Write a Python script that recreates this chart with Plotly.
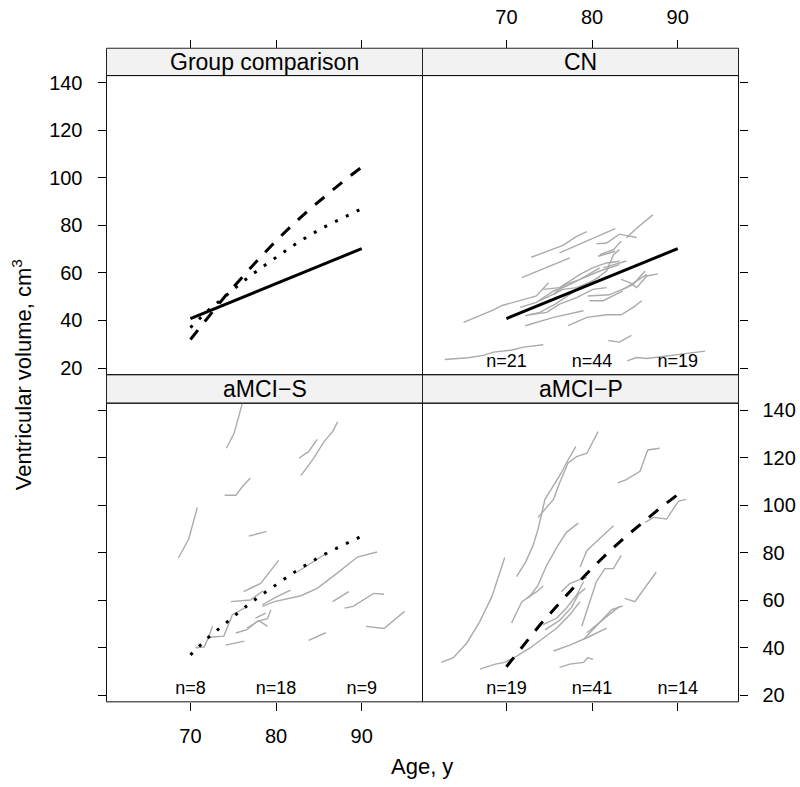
import plotly.graph_objects as go

W, H = 800, 787
FONT = "Liberation Sans"

# ---------------- data ----------------
AGE_TICKS = [70, 80, 90]
VOL_TICKS = [20, 40, 60, 80, 100, 120, 140]
X_RANGE = [60.2, 97.1]
Y_RANGE = [17.2, 143.0]

PANEL_TITLES = ["Group comparison", "CN", "aMCI\u2212S", "aMCI\u2212P"]

# group fitted trajectories
FIT_AGE = [70, 72, 74, 76, 78, 80, 82, 84, 86, 88, 90]
FIT_CN = [40.8, 43.7, 46.6, 49.6, 52.5, 55.5, 58.4, 61.4, 64.3, 67.3, 70.2]
FIT_S = [37.0, 44.0, 50.0, 56.0, 61.5, 66.5, 71.5, 76.0, 80.0, 83.5, 87.0]
FIT_P = [32.0, 41.0, 50.0, 58.0, 66.0, 73.5, 80.5, 87.0, 93.0, 99.0, 104.5]

# individual trajectories, CN
CN_AGE = [
    [62.8, 65.5, 67.3, 68.5, 70.5, 72.0, 74.3],
    [84.1, 85.2, 86.4, 89.5, 93.2],
    [81.9, 83.2, 84.6],
    [65.0, 66.9, 68.5, 69.5, 71.6, 73.5, 74.9],
    [72.9, 76.6, 78.2, 79.4],
    [76.2, 79.4, 82.7],
    [71.8, 77.4],
    [80.5, 81.7, 83.2, 85.2],
    [84.0, 85.2, 87.1],
    [80.9, 82.5, 83.4],
    [71.6, 73.5, 75.5, 77.0, 78.6, 80.9, 83.2],
    [72.7, 74.7, 76.2, 78.2, 80.1, 81.7],
    [72.2, 75.5, 79.0],
    [77.2, 79.4, 81.7, 83.4, 84.8, 85.8],
    [79.5, 82.0, 84.0, 86.4],
    [83.4, 84.4, 85.2, 86.0, 86.4, 87.7],
    [83.6, 84.8, 86.2],
    [74.3, 76.2, 78.6, 80.1, 81.7, 83.2],
    [75.5, 76.6, 78.2, 80.1, 81.7, 82.5, 83.2],
    [80.7, 82.7],
    [81.3, 82.7, 84.0],
    [72.2, 73.9, 75.7, 77.2, 78.6, 80.9],
    [73.9, 75.5, 77.0, 78.6, 80.9],
    [79.7, 81.3, 83.6],
]
CN_VOL = [
    [23.6, 24.3, 25.3, 26.7, 27.5, 28.8, 29.8],
    [23.0, 24.4, 24.0, 25.3, 27.1],
    [31.6, 30.9, 33.7],
    [39.2, 42.0, 44.5, 46.3, 48.3, 50.3, 55.9],
    [66.6, 71.6, 75.4, 77.4],
    [68.4, 73.3, 78.6],
    [58.0, 66.3],
    [72.2, 72.6, 76.3, 74.9],
    [74.7, 78.8, 84.4],
    [67.7, 69.8, 73.3],
    [45.5, 47.6, 52.4, 54.5, 57.3, 60.8, 63.5],
    [42.4, 43.4, 46.9, 49.6, 53.1, 53.8],
    [37.8, 41.3, 44.1],
    [37.8, 41.3, 42.4, 42.4, 45.5, 48.3],
    [50.3, 50.8, 53.8, 59.4],
    [57.3, 55.9, 53.8, 57.3, 58.7, 59.6],
    [53.1, 55.2, 60.8],
    [53.1, 53.8, 59.4, 62.2, 64.2, 64.9],
    [51.0, 53.1, 53.8, 56.6, 60.8, 67.7, 69.8],
    [67.0, 69.1],
    [62.1, 63.6, 65.0],
    [42.0, 43.4, 46.9, 50.3, 53.8, 58.3],
    [48.3, 51.1, 55.2, 57.3, 62.1],
    [48.3, 48.3, 52.4],
]

# individual trajectories, aMCI-S
S_AGE = [
    [74.2, 75.1, 76.1],
    [82.7, 83.8, 84.8],
    [82.9, 84.4, 85.6, 86.6, 87.2],
    [74.0, 75.3, 76.1, 77.0],
    [68.6, 69.8, 70.8],
    [76.8, 78.9],
    [70.6, 71.6, 72.0, 72.6],
    [72.2, 73.9, 74.9, 76.3],
    [76.2, 78.2, 80.3],
    [74.7, 77.0, 78.5],
    [78.4, 80.1, 81.7],
    [78.4, 79.8, 82.9, 84.8, 87.1, 89.5, 91.8],
    [86.6, 88.5],
    [88.0, 89.0, 91.4, 92.6],
    [90.5, 92.6, 95.0],
    [83.8, 85.8],
    [74.1, 76.3],
    [75.3, 76.6, 77.8, 79.0, 79.4],
    [76.6, 78.0, 79.0],
    [77.6, 78.8],
    [82.5, 84.0, 86.0],
]
S_VOL = [
    [124.0, 130.3, 143.5],
    [119.9, 122.6, 127.8],
    [112.5, 119.9, 126.8, 131.0, 135.1],
    [104.2, 104.2, 108.0, 111.5],
    [77.8, 85.8, 99.0],
    [87.0, 89.0],
    [40.0, 40.3, 43.5, 49.0],
    [44.4, 44.9, 53.9, 56.7],
    [63.6, 67.1, 76.8],
    [59.4, 60.1, 64.0],
    [58.1, 61.5, 64.3],
    [57.4, 59.4, 61.9, 65.0, 71.3, 78.2, 80.3],
    [59.4, 63.6],
    [56.7, 57.4, 62.9, 62.5],
    [49.0, 48.1, 55.3],
    [43.1, 46.3],
    [41.1, 42.8],
    [46.2, 47.6, 51.1, 52.2, 56.0],
    [48.3, 51.4, 49.0],
    [52.5, 54.6],
    [72.0, 75.5, 80.0],
]

# individual trajectories, aMCI-P
P_AGE = [
    [62.4, 63.8, 65.4, 66.9, 68.3, 69.1, 69.8],
    [66.9, 68.7, 69.8, 71.2, 72.8, 74.3, 75.9, 77.4, 78.6],
    [75.5, 77.4, 79.4, 81.7],
    [79.0, 80.5, 82.3, 83.6],
    [79.4, 81.3, 83.2],
    [76.2, 77.4, 79.0, 79.5, 80.1],
    [70.6, 71.8, 72.7, 73.7, 74.7, 75.9, 77.0, 78.4],
    [72.4, 73.5, 74.3],
    [71.2, 72.3, 73.1, 73.7, 74.5, 75.7, 76.4, 77.0, 78.1],
    [73.7, 74.7, 75.5, 76.2, 77.2, 78.2, 79.4, 80.7],
    [83.0, 84.0, 85.6, 86.5, 87.9],
    [86.2, 87.2, 88.7, 90.1, 91.0],
    [83.8, 85.0, 87.5],
    [78.6, 79.4, 80.9, 82.5],
    [78.8, 79.6, 80.5, 81.5, 82.5, 83.4],
    [74.3, 75.9, 77.0, 78.2, 79.0],
    [74.5, 76.2, 77.6, 78.4, 79.2],
    [76.4, 77.4, 78.4, 79.4],
]
P_VOL = [
    [33.8, 35.8, 42.1, 51.1, 61.5, 70.6, 78.0],
    [31.0, 33.1, 33.8, 36.5, 40.0, 44.2, 48.3, 53.9, 59.4],
    [38.6, 41.1, 44.2, 48.3],
    [43.5, 49.0, 56.0, 57.6],
    [46.3, 51.8, 57.4],
    [31.7, 33.1, 33.8, 35.8, 35.1],
    [50.4, 59.4, 61.5, 66.4, 74.7, 82.4, 88.6, 92.5],
    [61.0, 63.5, 66.0],
    [69.9, 76.5, 83.0, 90.0, 102.5, 109.4, 113.6, 117.8, 124.7],
    [94.9, 99.0, 102.5, 109.4, 117.8, 120.5, 121.9, 131.0],
    [109.4, 110.8, 114.3, 123.3, 124.0],
    [92.8, 94.9, 94.2, 101.8, 102.5],
    [60.8, 59.4, 71.9],
    [74.0, 81.0, 86.0, 91.4],
    [49.0, 58.0, 67.8, 73.3, 73.3, 78.9],
    [49.7, 52.5, 56.7, 62.2, 67.8],
    [47.5, 51.5, 57.0, 62.5, 65.0],
    [63.6, 67.0, 68.5, 69.5],
]

N_X = [70, 80, 90]
N_Y = [22.3, 22.3, 22.3]
CN_N = ["n=21", "n=44", "n=19"]
S_N = ["n=8", "n=18", "n=9"]
P_N = ["n=19", "n=41", "n=14"]

# ---------------- layout geometry (pixels) ----------------
XL = (106.5, 422.5)
XR = (422.5, 738.5)
STRIP_TOP = (44.7, 72.3)
PANEL_TOP = (72.3, 374.5)
STRIP_BOT = (374.5, 403.3)
PANEL_BOT = (403.3, 705.0)


def px(x):
    return x / W


def py(y):
    return 1 - y / H


def ydom(a):
    return [py(a[1]), py(a[0])]


def xdom(a):
    return [px(a[0]), px(a[1])]


def concat(ages, vols):
    xs, ys = [], []
    for a, v in zip(ages, vols):
        xs += list(a) + [None]
        ys += list(v) + [None]
    return xs, ys


GRAY = "#ababab"
fig = go.Figure()

BLACK = "#000000"
solid = dict(color=BLACK, width=3)
dotted = dict(color=BLACK, width=3, dash="3px,9px")
dashed = dict(color=BLACK, width=3, dash="12px,11px")
nfont = dict(size=18, family=FONT, color="black")

# panel 1: group comparison
fig.add_trace(go.Scatter(x=FIT_AGE, y=FIT_CN, mode="lines", line=solid, xaxis="x", yaxis="y"))
fig.add_trace(go.Scatter(x=FIT_AGE, y=FIT_S, mode="lines", line=dotted, xaxis="x", yaxis="y"))
fig.add_trace(go.Scatter(x=FIT_AGE, y=FIT_P, mode="lines", line=dashed, xaxis="x", yaxis="y"))

# panel 2: CN
x, y = concat(CN_AGE, CN_VOL)
fig.add_trace(go.Scatter(x=x, y=y, mode="lines", line=dict(color=GRAY, width=1.4),
                         connectgaps=False, xaxis="x2", yaxis="y2"))
fig.add_trace(go.Scatter(x=FIT_AGE, y=FIT_CN, mode="lines", line=solid, xaxis="x2", yaxis="y2"))
fig.add_trace(go.Scatter(x=N_X, y=N_Y, mode="text", text=CN_N, textfont=nfont,
                         xaxis="x2", yaxis="y2"))

# panel 3: aMCI-S
x, y = concat(S_AGE, S_VOL)
fig.add_trace(go.Scatter(x=x, y=y, mode="lines", line=dict(color=GRAY, width=1.4),
                         connectgaps=False, xaxis="x3", yaxis="y3"))
fig.add_trace(go.Scatter(x=FIT_AGE, y=FIT_S, mode="lines", line=dotted, xaxis="x3", yaxis="y3"))
fig.add_trace(go.Scatter(x=N_X, y=N_Y, mode="text", text=S_N, textfont=nfont,
                         xaxis="x3", yaxis="y3"))

# panel 4: aMCI-P
x, y = concat(P_AGE, P_VOL)
fig.add_trace(go.Scatter(x=x, y=y, mode="lines", line=dict(color=GRAY, width=1.4),
                         connectgaps=False, xaxis="x4", yaxis="y4"))
fig.add_trace(go.Scatter(x=FIT_AGE, y=FIT_P, mode="lines", line=dashed, xaxis="x4", yaxis="y4"))
fig.add_trace(go.Scatter(x=N_X, y=N_Y, mode="text", text=P_N, textfont=nfont,
                         xaxis="x4", yaxis="y4"))

tickfont = dict(size=20, family=FONT, color="black")


def xax(dom, anchor, side, labels, position=None):
    d = dict(domain=xdom(dom), anchor=anchor, side=side, range=X_RANGE,
             tickmode="array", tickvals=AGE_TICKS, ticktext=[str(t) for t in AGE_TICKS],
             ticks="outside", ticklen=8, tickwidth=1, tickcolor="black",
             showticklabels=labels, tickfont=tickfont, ticklabelstandoff=8,
             showgrid=False, zeroline=False, showline=False, fixedrange=True)
    if position is not None:
        d["anchor"] = "free"
        d["position"] = position
    return d


def yax(dom, anchor, side, labels):
    return dict(domain=ydom(dom), anchor=anchor, side=side, range=Y_RANGE,
                tickmode="array", tickvals=VOL_TICKS, ticktext=[str(t) for t in VOL_TICKS],
                ticks="outside", ticklen=8, tickwidth=1, tickcolor="black",
                showticklabels=labels, tickfont=tickfont, ticklabelstandoff=11,
                showgrid=False, zeroline=False, showline=False, fixedrange=True)


shapes = []
annotations = []
panels = [(XL, PANEL_TOP, STRIP_TOP), (XR, PANEL_TOP, STRIP_TOP),
          (XL, PANEL_BOT, STRIP_BOT), (XR, PANEL_BOT, STRIP_BOT)]
for (xd, pd, sd), title in zip(panels, PANEL_TITLES):
    shapes.append(dict(type="rect", xref="paper", yref="paper",
                       x0=px(xd[0]), x1=px(xd[1]), y0=py(sd[1]), y1=py(sd[0]),
                       fillcolor="#f2f2f2", line=dict(color="#222222", width=1), layer="below"))
    shapes.append(dict(type="rect", xref="paper", yref="paper",
                       x0=px(xd[0]), x1=px(xd[1]), y0=py(pd[1]), y1=py(pd[0]),
                       fillcolor="rgba(0,0,0,0)", line=dict(color="#111111", width=1), layer="above"))
    annotations.append(dict(text=title, xref="paper", yref="paper",
                            x=px((xd[0] + xd[1]) / 2), y=py((sd[0] + sd[1]) / 2),
                            showarrow=False, xanchor="center", yanchor="middle",
                            font=dict(size=23, family=FONT, color="black")))

annotations.append(dict(text="Ventricular volume, cm<sup>3</sup>", xref="paper", yref="paper",
                        x=px(22), y=py(375), textangle=-90, showarrow=False,
                        xanchor="center", yanchor="middle",
                        font=dict(size=22, family=FONT, color="black")))
annotations.append(dict(text="Age, y", xref="paper", yref="paper",
                        x=px(422.5), y=py(770), showarrow=False,
                        xanchor="center", yanchor="middle",
                        font=dict(size=22, family=FONT, color="black")))

top_pos = py(STRIP_TOP[0])
fig.update_layout(
    width=W, height=H,
    margin=dict(l=0, r=0, t=0, b=0),
    paper_bgcolor="white", plot_bgcolor="white",
    showlegend=False,
    xaxis=xax(XL, "y", "top", False, position=top_pos),
    xaxis2=xax(XR, "y2", "top", True, position=top_pos),
    xaxis3=xax(XL, "y3", "bottom", True),
    xaxis4=xax(XR, "y4", "bottom", False),
    yaxis=yax(PANEL_TOP, "x", "left", True),
    yaxis2=yax(PANEL_TOP, "x2", "right", False),
    yaxis3=yax(PANEL_BOT, "x3", "left", False),
    yaxis4=yax(PANEL_BOT, "x4", "right", True),
    shapes=shapes,
    annotations=annotations,
    font=dict(family=FONT),
)

fig.write_html("out.html",
               config={"displayModeBar": False, "staticPlot": True},
               post_script="document.body.style.margin='0';document.body.style.overflow='hidden';")
